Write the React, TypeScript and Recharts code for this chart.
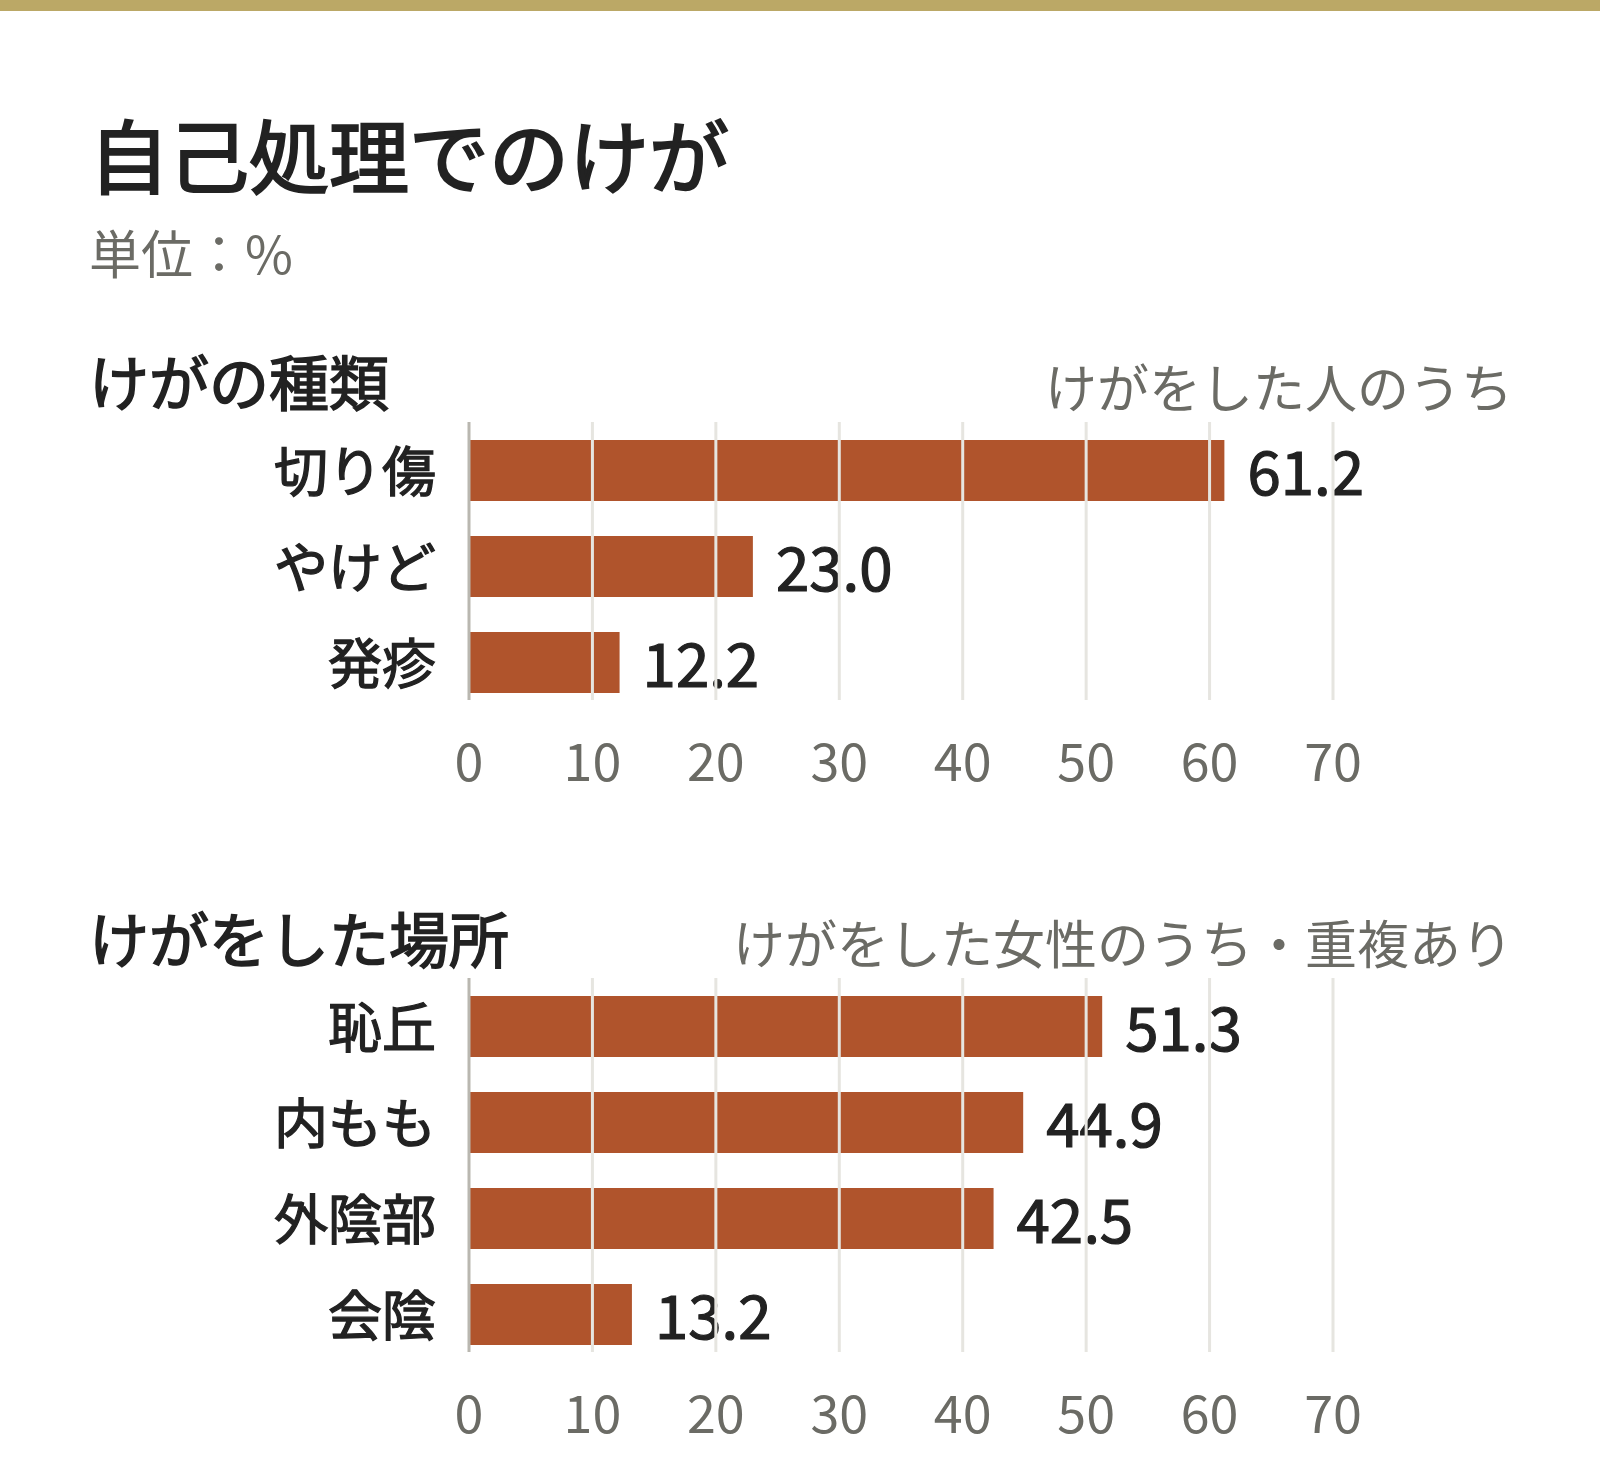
import React from 'react';
import { BarChart, Bar, XAxis, YAxis, ReferenceLine, LabelList } from 'recharts';

// data
const typeCategories = ['切り傷', 'やけど', '発疹'];
const typeValues = [61.2, 23.0, 12.2];
const siteCategories = ['恥丘', '内もも', '外陰部', '会陰'];
const siteValues = [51.3, 44.9, 42.5, 13.2];
const xTicks = [0, 10, 20, 30, 40, 50, 60, 70];
const gridTicks = [10, 20, 30, 40, 50, 60, 70];

// constants
const FONT = "'Noto Sans CJK JP', 'Noto Sans', sans-serif";
const BAR_COLOR = '#b0542c';
const DARK = '#222222';
const GRAY = '#6b6b65';
const GRID = '#e6e5e0';
const ZERO = '#b9b7b0';
const BAND = 96;

const GridLine = (props: any) => (
  <line
    x1={props.x1}
    x2={props.x2}
    y1={Math.min(props.y1, props.y2) - 6}
    y2={Math.max(props.y1, props.y2) - 10}
    stroke={props.stroke}
    strokeWidth={props.strokeWidth}
  />
);

// medium-weight look: regular face + thin stroke
const CategoryTick = ({ x, y, payload }: any) => (
  <text
    x={x}
    y={y}
    dy={0.355 * 54 + 3}
    textAnchor="end"
    fontSize={54}
    fontFamily={FONT}
    fill={DARK}
    stroke={DARK}
    strokeWidth={1.3}
  >
    {payload.value}
  </text>
);

const ValueLabel = ({ x, y, width, height, value }: any) => (
  <text
    x={x + width + 23}
    y={y + height / 2}
    dy={0.355 * 60 + 3}
    textAnchor="start"
    fontSize={60}
    fontFamily={FONT}
    fill={DARK}
    stroke={DARK}
    strokeWidth={1.2}
  >
    {Number(value).toFixed(1)}
  </text>
);

const Panel = ({ categories, values, top }: any) => {
  const data = categories.map((name: string, i: number) => ({ name, value: values[i] }));
  const plotH = categories.length * BAND;
  return (
    <div style={{ position: 'absolute', left: 0, top }}>
      <BarChart
        width={1600}
        height={plotH + 90}
        data={data}
        layout="vertical"
        margin={{ top: 0, right: 267, bottom: 0, left: 0 }}
        barSize={61}
      >
        <XAxis
          type="number"
          domain={[0, 70]}
          ticks={xTicks}
          height={90}
          axisLine={false}
          tickLine={false}
          tickSize={0}
          tickMargin={34}
          tick={{ fontSize: 52, fill: GRAY, fontFamily: FONT }}
        />
        <YAxis
          type="category"
          dataKey="name"
          width={469}
          axisLine={false}
          tickLine={false}
          tickSize={0}
          tickMargin={33}
          tick={<CategoryTick />}
        />
        <Bar dataKey="value" fill={BAR_COLOR} isAnimationActive={false}>
          <LabelList dataKey="value" content={<ValueLabel />} />
        </Bar>
        {gridTicks.map((t) => (
          <ReferenceLine key={t} x={t} stroke={GRID} strokeWidth={3} shape={GridLine} zIndex={2500} />
        ))}
        <ReferenceLine x={0} stroke={ZERO} strokeWidth={3} shape={GridLine} zIndex={2500} />
      </BarChart>
    </div>
  );
};

const heading = (size: number, stroke: number) => ({
  fontSize: size,
  fontWeight: 400,
  color: DARK,
  lineHeight: 1,
  WebkitTextStroke: `${stroke}px ${DARK}`,
});

export default function App() {
  return (
    <div
      style={{
        position: 'absolute',
        left: 0,
        top: 0,
        width: 1600,
        height: 1484,
        background: '#ffffff',
        fontFamily: FONT,
        overflow: 'hidden',
      }}
    >
      <div style={{ position: 'absolute', left: 0, top: 0, width: 1600, height: 11, background: '#bba866' }} />
      <div style={{ position: 'absolute', left: 89, top: 112, ...heading(80, 2.2) }}>自己処理でのけが</div>
      <div style={{ position: 'absolute', left: 89, top: 226, fontSize: 52, color: GRAY, lineHeight: 1 }}>
        単位：%
      </div>

      <div style={{ position: 'absolute', left: 89, top: 350, ...heading(60, 1.6) }}>けがの種類</div>
      <div style={{ position: 'absolute', right: 87, top: 360, fontSize: 52, color: GRAY, lineHeight: 1 }}>
        けがをした人のうち
      </div>
      <Panel categories={typeCategories} values={typeValues} top={422} />

      <div style={{ position: 'absolute', left: 89, top: 907, ...heading(60, 1.6) }}>けがをした場所</div>
      <div style={{ position: 'absolute', right: 87, top: 916, fontSize: 52, color: GRAY, lineHeight: 1 }}>
        けがをした女性のうち・重複あり
      </div>
      <Panel categories={siteCategories} values={siteValues} top={978} />
    </div>
  );
}
